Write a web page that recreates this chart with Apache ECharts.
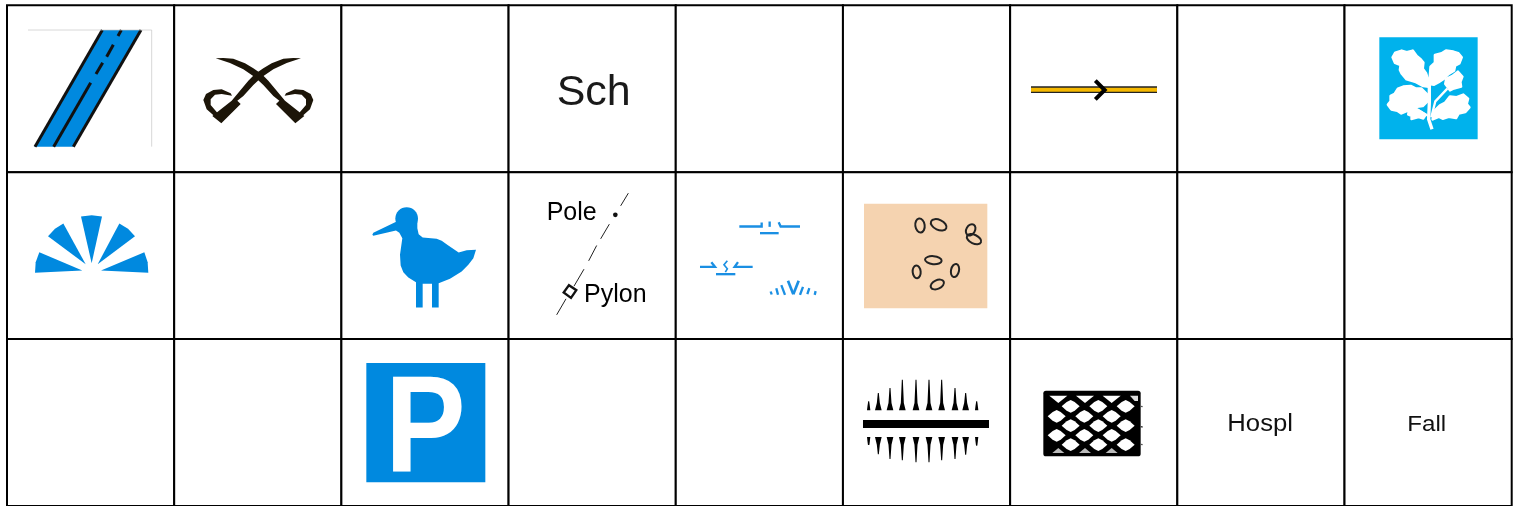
<!DOCTYPE html>
<html>
<head>
<meta charset="utf-8">
<title>Map symbols</title>
<script src="https://cdn.jsdelivr.net/npm/echarts@6/dist/echarts.min.js"></script>
<style>
  html, body { margin: 0; padding: 0; background: #fff; }
  #main { width: 1518px; height: 506px; }
</style>
</head>
<body>
<div id="main"></div>
<script>
var columns = ["A", "B", "C", "D", "E", "F", "G", "H", "I"];
var rows = ["1", "2", "3"];

// what sits in each cell, left to right
var rowOne = ["road", "swords", "", "school", "", "", "rail", "", "trust"];
var rowTwo = ["fan", "", "bird", "poles", "marsh", "sand", "", "", ""];
var rowThree = ["", "", "parking", "", "", "hedge", "lattice", "hospital", "fall"];

var schoolLabel = "Sch";
var poleLabel = "Pole";
var pylonLabel = "Pylon";
var parkingLabel = "P";
var hospitalLabel = "Hospl";
var fallLabel = "Fall";

var BLUE = "#0089df";
var INK = "#000";
var FONT = '"Liberation Sans", Arial, sans-serif';

// ---- small drawing helpers, glyphs are drawn at 3x and scaled down ----
function poly(points, fill) {
  return { type: "polygon", shape: { points: points }, style: { fill: fill } };
}
function fatPoly(points, fill, width) {
  return {
    type: "polygon",
    shape: { points: points },
    style: { fill: fill, stroke: fill, lineWidth: width, lineJoin: "round" },
  };
}
function stroke(points, color, width) {
  return {
    type: "polyline",
    shape: { points: points },
    style: { stroke: color, lineWidth: width, fill: null, lineCap: "butt", lineJoin: "miter" },
  };
}
function box(x, y, w, h, fill) {
  return { type: "rect", shape: { x: x, y: y, width: w, height: h }, style: { fill: fill } };
}
function oval(x, y, rx, ry, deg, color, width) {
  return {
    type: "ellipse",
    x: x,
    y: y,
    rotation: (deg * Math.PI) / 180,
    shape: { cx: 0, cy: 0, rx: rx, ry: ry },
    style: { fill: null, stroke: color, lineWidth: width },
  };
}
function label(text, x, baseline, size, color, opts) {
  opts = opts || {};
  return {
    type: "text",
    x: x,
    y: baseline - size * 0.28,
    scaleX: opts.scaleX || 1,
    style: {
      text: text,
      fill: color,
      font: (opts.weight || "normal") + " " + size + "px " + FONT,
      align: "left",
      verticalAlign: "middle",
    },
  };
}
function mirror(points, axis) {
  return points.map(function (p) {
    return [axis - p[0], p[1]];
  });
}

// ---- one function per symbol, offset says where the 3x drawing starts in the cell ----
var glyphs = {
  road: {
    offset: [-7, -5.2],
    draw: function () {
      return [
        poly([[305, 90], [423, 90], [219, 440], [103, 440]], BLUE),
        stroke([[307, 90], [105, 440]], "#111", 9),
        stroke([[423, 90], [220, 440]], "#111", 9),
        stroke([[272, 248], [161, 440]], "#111", 9),
        stroke([[364, 90], [354, 108]], "#111", 9),
        stroke([[340, 134], [320, 170]], "#111", 9),
        stroke([[308, 188], [288, 222]], "#111", 9),
        stroke([[84, 90], [455, 90], [455, 440]], "#c4c4c4", 2),
      ];
    },
  },
  swords: {
    offset: [-174.19, -5.2],
    draw: function () {
      var blade = [
        [903, 175], [880, 174], [850, 176], [815, 190], [790, 205], [765, 222], [745, 242],
        [715, 278], [695, 302], [637, 348], [664, 370], [722, 312], [712, 302],
        [730, 288], [760, 255], [785, 232], [820, 208], [860, 189],
      ];
      var guard = [
        [642, 347], [620, 328], [610, 300], [618, 282], [640, 270], [665, 268],
        [692, 280], [696, 287], [665, 282], [645, 284], [632, 298], [632, 315], [652, 338],
      ];
      var color = "#1c1508";
      return [
        poly(blade, color),
        poly(guard, color),
        poly(mirror(blade, 1550), color),
        poly(mirror(guard, 1550), color),
      ];
    },
  },
  school: {
    offset: [31.43, 49.8],
    draw: function () {
      return [label(schoolLabel, 50, 150, 129, "#1a1a1a")];
    },
  },
  rail: {
    offset: [9.86, -5.2],
    draw: function () {
      return [
        box(33, 259, 378, 20, "#222"),
        box(33, 263, 378, 12, "#f5b800"),
        stroke([[226, 242], [254, 270], [226, 298]], "#000", 12),
      ];
    },
  },
  trust: {
    offset: [15.48, 14.8],
    draw: function () {
      var white = "#fff";
      return [
        box(58, 52, 295, 306, "#00b2ec"),
        fatPoly([[206, 200], [190, 198], [165, 185], [140, 178], [125, 160], [120, 150], [122, 135], [105, 128], [98, 112], [106, 98], [125, 92], [140, 97], [158, 92], [170, 108], [180, 116], [190, 128], [188, 146], [198, 160], [202, 172], [208, 182]], white, 8),
        fatPoly([[208, 192], [210, 165], [212, 140], [225, 128], [225, 105], [245, 100], [258, 92], [280, 95], [295, 100], [305, 112], [298, 130], [285, 137], [282, 152], [265, 162], [252, 176], [236, 186], [222, 194]], white, 8),
        fatPoly([[255, 192], [258, 176], [276, 168], [294, 154], [308, 170], [302, 186], [304, 200], [282, 206], [270, 212]], white, 6),
        fatPoly([[206, 228], [184, 206], [168, 206], [152, 198], [130, 200], [114, 206], [104, 222], [92, 228], [92, 244], [84, 254], [94, 268], [112, 272], [124, 280], [142, 272], [160, 272], [172, 260], [188, 258], [206, 240]], white, 8),
        fatPoly([[218, 298], [224, 272], [240, 256], [256, 248], [270, 230], [290, 232], [310, 224], [324, 236], [320, 252], [328, 262], [316, 276], [296, 280], [288, 294], [266, 290], [248, 296], [236, 290]], white, 8),
        fatPoly([[198, 284], [182, 274], [166, 264], [146, 270], [144, 284], [154, 288], [154, 298], [176, 292], [190, 296]], white, 6),
        stroke([[216, 328], [206, 298], [208, 250], [208, 190]], white, 10),
        stroke([[214, 292], [226, 244], [262, 206]], white, 7),
        stroke([[172, 268], [208, 290]], white, 6),
      ];
    },
  },
  fan: {
    offset: [-7, 2.7],
    draw: function () {
      return [
        poly([[105, 294], [107, 262], [118, 232], [247, 287]], BLUE),
        poly([[144, 184], [165, 162], [190, 146], [257, 268]], BLUE),
        poly([[243, 125], [275, 121], [306, 125], [275, 265]], BLUE),
        poly([[358, 146], [384, 162], [405, 184], [293, 268]], BLUE),
        poly([[433, 232], [443, 262], [445, 294], [303, 287]], BLUE),
      ];
    },
  },
  bird: {
    offset: [-341.38, 2.7],
    draw: function () {
      return [
        { type: "circle", shape: { cx: 1220, cy: 131, r: 34 }, style: { fill: BLUE } },
        poly([
          [1117, 180], [1120, 174], [1190, 140], [1220, 140], [1252, 140], [1252, 160], [1256, 178],
          [1268, 188], [1310, 192], [1325, 198], [1345, 212], [1376, 233], [1400, 226], [1428, 225],
          [1420, 250], [1405, 270], [1385, 290], [1350, 312], [1316, 325], [1316, 398], [1296, 398],
          [1296, 327], [1268, 327], [1268, 398], [1248, 398], [1248, 322], [1225, 308], [1210, 292],
          [1202, 272], [1200, 240], [1207, 190], [1198, 174], [1188, 167], [1120, 183],
        ], BLUE),
      ];
    },
  },
  poles: {
    offset: [1.43, 2.7],
    draw: function () {
      var c = "#222";
      return [
        stroke([[355, 55], [332, 93]], c, 3),
        stroke([[298, 148], [272, 192]], c, 3),
        stroke([[260, 212], [236, 258]], c, 3),
        stroke([[222, 283], [192, 334]], c, 3),
        stroke([[168, 372], [140, 420]], c, 3),
        { type: "circle", shape: { cx: 316, cy: 120, r: 7 }, style: { fill: "#111" } },
        {
          type: "polygon",
          shape: { points: [[177, 331], [199, 346], [183, 369], [161, 353]] },
          style: { fill: "#fff", stroke: "#111", lineWidth: 7 },
        },
        label(poleLabel, 110, 135, 75, "#000"),
        label(pylonLabel, 222, 383, 75, "#000"),
      ];
    },
  },
  marsh: {
    offset: [-165.76, 2.7],
    draw: function () {
      var c = "#1a8fe3";
      return [
        stroke([[688, 155], [755, 155], [755, 143]], c, 7),
        stroke([[750, 175], [806, 175]], c, 7),
        stroke([[779, 140], [779, 156]], c, 7),
        stroke([[806, 142], [812, 155], [870, 155]], c, 7),
        stroke([[570, 276], [615, 276], [604, 262]], c, 7),
        stroke([[684, 262], [674, 276], [728, 276]], c, 7),
        stroke([[618, 298], [676, 298]], c, 7),
        stroke([[652, 258], [642, 270], [652, 282], [646, 292]], c, 5),
        stroke([[782, 350], [785, 359]], c, 7),
        stroke([[799, 340], [804, 360]], c, 7),
        stroke([[814, 331], [825, 360]], c, 7),
        stroke([[834, 318], [850, 358]], c, 8),
        stroke([[866, 318], [850, 358]], c, 8),
        stroke([[879, 336], [870, 360]], c, 7),
        stroke([[898, 340], [892, 358]], c, 7),
        stroke([[917, 349], [914, 360]], c, 7),
      ];
    },
  },
  sand: {
    offset: [-332.95, 2.7],
    draw: function () {
      var c = "#222";
      return [
        box(1062, 87, 370, 313, "#f5d3b0"),
        oval(1230, 152, 14, 21, 8, c, 6),
        oval(1286, 150, 25, 15, -25, c, 6),
        oval(1382, 165, 13, 18, -30, c, 6),
        oval(1392, 193, 23, 13, -25, c, 6),
        oval(1270, 256, 25, 12, -5, c, 6),
        oval(1220, 291, 12, 19, 5, c, 6),
        oval(1335, 287, 12, 20, -12, c, 6),
        oval(1282, 329, 21, 13, 25, c, 6),
      ];
    },
  },
  parking: {
    offset: [8.62, 10.6],
    draw: function () {
      return [
        box(49, 40, 357, 358, BLUE),
        label(parkingLabel, 105, 365, 414, "#fff", { weight: "bold", scaleX: 0.875 }),
      ];
    },
  },
  hedge: {
    offset: [-2.95, 0.6],
    draw: function () {
      var spikeX = [86, 115, 150, 187, 228, 267, 305, 345, 377, 410];
      var upTip = [185, 160, 145, 120, 120, 120, 120, 145, 160, 185];
      var downTip = [316, 344, 358, 362, 368, 368, 362, 358, 345, 318];
      var out = [box(69, 241, 378, 24, "#000")];
      spikeX.forEach(function (x, i) {
        var half = i === 0 || i === 9 ? 5 : 10;
        var neck = half * 0.45;
        out.push(poly([[x - half, 212], [x - neck, 190], [x - 1.5, upTip[i]], [x + 1.5, upTip[i]], [x + neck, 190], [x + half, 212]], "#000"));
        out.push(poly([[x - half, 292], [x - neck, 315], [x - 1.5, downTip[i]], [x + 1.5, downTip[i]], [x + neck, 315], [x + half, 292]], "#000"));
      });
      return out;
    },
  },
  lattice: {
    offset: [-170.14, 0.6],
    draw: function () {
      var out = [
        { type: "rect", shape: { x: 610, y: 153, width: 292, height: 197, r: 8 }, style: { fill: "#000" } },
      ];
      var holes = [
        [692, 200], [775, 200], [857, 200],
        [650, 230], [733, 230], [815, 230],
        [692, 258], [775, 258], [857, 258],
        [650, 287], [733, 287], [815, 287],
        [692, 315], [775, 315], [857, 315],
      ];
      holes.forEach(function (h) {
        var x = h[0];
        var y = h[1];
        out.push(poly([
          [x - 27, y], [x - 12, y - 13], [x, y - 19], [x + 12, y - 13],
          [x + 27, y], [x + 12, y + 13], [x, y + 19], [x - 12, y + 13],
        ], "#fff"));
      });
      [655, 735, 815].forEach(function (x) {
        out.push(poly([[x - 27, 168], [x + 27, 168], [x, 190]], "#fff"));
        out.push(poly([[x - 18, 340], [x, 325], [x + 18, 340]], "#bbb"));
      });
      out.push(poly([[870, 168], [894, 168], [894, 184], [884, 184]], "#ddd"));
      out.push(stroke([[902, 200], [908, 201]], "#555", 4));
      out.push(stroke([[902, 261], [908, 262]], "#333", 4));
      out.push(stroke([[902, 314], [908, 315]], "#555", 4));
      return out;
    },
  },
  hospital: {
    offset: [22.67, 55.6],
    draw: function () {
      return [label(hospitalLabel, 82, 108, 72, "#111", { scaleX: 1.07 })];
    },
  },
  fall: {
    offset: [-144.52, 55.6],
    draw: function () {
      return [label(fallLabel, 622, 110, 69, "#111", { scaleX: 1.05 })];
    },
  },
};

var cellNames = [rowOne, rowTwo, rowThree];
var cells = [];
cellNames.forEach(function (row, r) {
  row.forEach(function (name, c) {
    cells.push({ value: [c, r], symbol: name });
  });
});

function renderCell(params, api) {
  var center = api.coord([api.value(0), api.value(1)]);
  var size = api.size([1, 1]);
  var x0 = center[0] - size[0] / 2;
  var y0 = center[1] - size[1] / 2;
  var children = [
    {
      type: "rect",
      shape: { x: x0, y: y0, width: size[0], height: size[1] },
      style: { fill: "#fff", stroke: INK, lineWidth: 2 },
      z2: 0,
    },
  ];
  var glyph = glyphs[cells[params.dataIndex].symbol];
  if (glyph) {
    children.push({
      type: "group",
      x: x0 + glyph.offset[0],
      y: y0 + glyph.offset[1],
      scaleX: 1 / 3,
      scaleY: 1 / 3,
      children: glyph.draw(),
      z2: 1,
    });
  }
  return { type: "group", children: children };
}

var chart = echarts.init(document.getElementById("main"));
var option = {
  animation: false,
  backgroundColor: "#fff",
  grid: { left: 7, top: 5.2, width: 1504.7, height: 501.3 },
  xAxis: {
    type: "category",
    data: columns,
    axisLine: { show: false },
    axisTick: { show: false },
    axisLabel: { show: false },
    splitLine: { show: false },
  },
  yAxis: {
    type: "category",
    data: rows,
    inverse: true,
    axisLine: { show: false },
    axisTick: { show: false },
    axisLabel: { show: false },
    splitLine: { show: false },
  },
  series: [
    {
      type: "custom",
      coordinateSystem: "cartesian2d",
      clip: false,
      silent: true,
      encode: { x: 0, y: 1 },
      data: cells,
      renderItem: renderCell,
    },
  ],
};
chart.setOption(option);
</script>
</body>
</html>
